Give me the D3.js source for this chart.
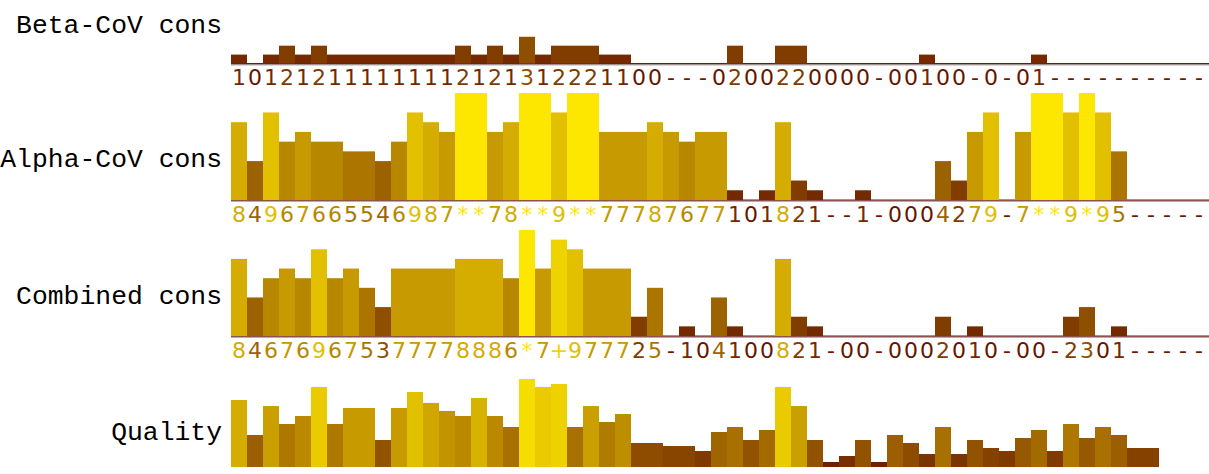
<!DOCTYPE html>
<html>
<head>
<meta charset="utf-8">
<script src="https://cdn.jsdelivr.net/npm/d3@7"></script>
<style>
  body { margin: 0; background: #fff; }
  svg { display: block; }
</style>
</head>
<body>
<svg id="chart" width="1209" height="474"></svg>
<script>
// =====================
// ANNOTATION ROW VALUES
// =====================
// one symbol per alignment column: digit 0-9, "+" = 10, "*" = 11, "-" = gap
var betaCons = ["1","0","1","2","1","2","1","1","1","1","1","1","1","1","2","1","2","1","3","1",
                "2","2","2","1","1","0","0","-","-","-","0","2","0","0","2","2","0","0","0","0",
                "-","0","0","1","0","0","-","0","-","0","1","-","-","-","-","-","-","-","-","-","-"];

var alphaCons = ["8","4","9","6","7","6","6","5","5","4","6","9","8","7","*","*","7","8","*","*",
                 "9","*","*","7","7","7","8","7","6","7","7","1","0","1","8","2","1","-","-","1",
                 "-","0","0","0","4","2","7","9","-","7","*","*","9","*","9","5","-","-","-","-","-"];

var combinedCons = ["8","4","6","7","6","9","6","7","5","3","7","7","7","7","8","8","8","6","*","7",
                    "+","9","7","7","7","2","5","-","1","0","4","1","0","0","8","2","1","-","0","0",
                    "-","0","0","0","2","0","1","0","-","0","0","-","2","3","0","1","-","-","-","-","-"];

// alignment quality score per column
var quality = [67,32,61,43,51,80,43,59,59,27,59,75,64,56,51,69,51,40,88,80,
               83,40,61,45,53,24,24,21,21,16,35,40,27,37,80,61,27,5,11,27,
               5,32,24,13,40,13,27,19,16,29,37,16,43,29,40,32,19,19,0,0,0];

var rowLabels = ["Beta-CoV cons", "Alpha-CoV cons", "Combined cons", "Quality"];

// ###############
// # SCALES etc. #
// ###############
function symbolValue(s) {
  if (s === "*") return 11;
  if (s === "+") return 10;
  if (s === "-") return 0;
  return +s;
}

var svg = d3.select("#chart");
var nCols = alphaCons.length;

var x = d3.scaleBand()
  .domain(d3.range(nCols))
  .range([231, 231 + nCols * 16])
  .padding(0);

var consColor = d3.scaleLinear()
  .domain([0, 11])
  .range(["#661600", "#fde600"])
  .clamp(true);

var qualColor = d3.scaleLinear()
  .domain([0, 92])
  .range(["#661600", "#fde600"])
  .clamp(true);

var labelFont = "'Liberation Mono', 'Courier New', monospace";

// rows: baseline y, bar height scale, label baseline
var rows = [
  { label: rowLabels[0], data: betaCons, base: 63.5, h: d3.scaleLinear().domain([0, 11]).range([0, 98]), labelY: 33 },
  { label: rowLabels[1], data: alphaCons, base: 200, h: d3.scaleLinear().domain([0, 11]).range([0, 107]), labelY: 167 },
  { label: rowLabels[2], data: combinedCons, base: 336, h: d3.scaleLinear().domain([0, 11]).range([0, 106]), labelY: 304 }
];

// ########################
// # CONSERVATION ROWS    #
// ########################
rows.forEach(function (r) {
  var g = svg.append("g");

  // baseline: dark red line over a grey one
  g.append("rect")
    .attr("x", 231).attr("y", r.base + 0.5)
    .attr("width", 1209 - 231).attr("height", 1.5)
    .attr("fill", "#b0b0b0");
  g.append("rect")
    .attr("x", 231).attr("y", r.base - 0.5)
    .attr("width", 1209 - 231).attr("height", 1.2)
    .attr("fill", "#6e1c10");

  g.selectAll("rect.bar")
    .data(r.data.map(function (s, i) { return { i: i, s: s, v: symbolValue(s) }; })
      .filter(function (d) { return d.v > 0; }))
    .enter().append("rect")
    .attr("class", "bar")
    .attr("x", function (d) { return x(d.i); })
    .attr("width", x.bandwidth())
    .attr("y", function (d) { return r.base - r.h(d.v); })
    .attr("height", function (d) { return r.h(d.v); })
    .attr("fill", function (d) { return consColor(d.v); });

  g.selectAll("text.sym")
    .data(r.data)
    .enter().append("text")
    .attr("class", "sym")
    .attr("x", function (d, i) { return x(i) + x.bandwidth() / 2; })
    .attr("y", r.base + 21.5)
    .attr("text-anchor", "middle")
    .attr("font-family", "'DejaVu Sans', Verdana, sans-serif")
    .attr("font-size", "22px")
    .attr("fill", function (d) { return consColor(symbolValue(d)); })
    .text(function (d) { return d; });

  svg.append("text")
    .attr("x", 222)
    .attr("y", r.labelY)
    .attr("text-anchor", "end")
    .attr("font-family", labelFont)
    .attr("font-size", "26.4px")
    .attr("fill", "#000")
    .text(r.label);
});

// ###############
// # QUALITY ROW #
// ###############
var qBase = 467;
var qh = d3.scaleLinear().domain([0, 100]).range([0, 100]);

svg.append("g")
  .selectAll("rect")
  .data(quality.map(function (v, i) { return { i: i, v: v }; }).filter(function (d) { return d.v > 0; }))
  .enter().append("rect")
  .attr("x", function (d) { return x(d.i); })
  .attr("width", x.bandwidth())
  .attr("y", function (d) { return qBase - qh(d.v); })
  .attr("height", function (d) { return qh(d.v); })
  .attr("fill", function (d) { return qualColor(d.v); });

svg.append("text")
  .attr("x", 222)
  .attr("y", 440)
  .attr("text-anchor", "end")
  .attr("font-family", labelFont)
  .attr("font-size", "26.4px")
  .attr("fill", "#000")
  .text(rowLabels[3]);
</script>
</body>
</html>
